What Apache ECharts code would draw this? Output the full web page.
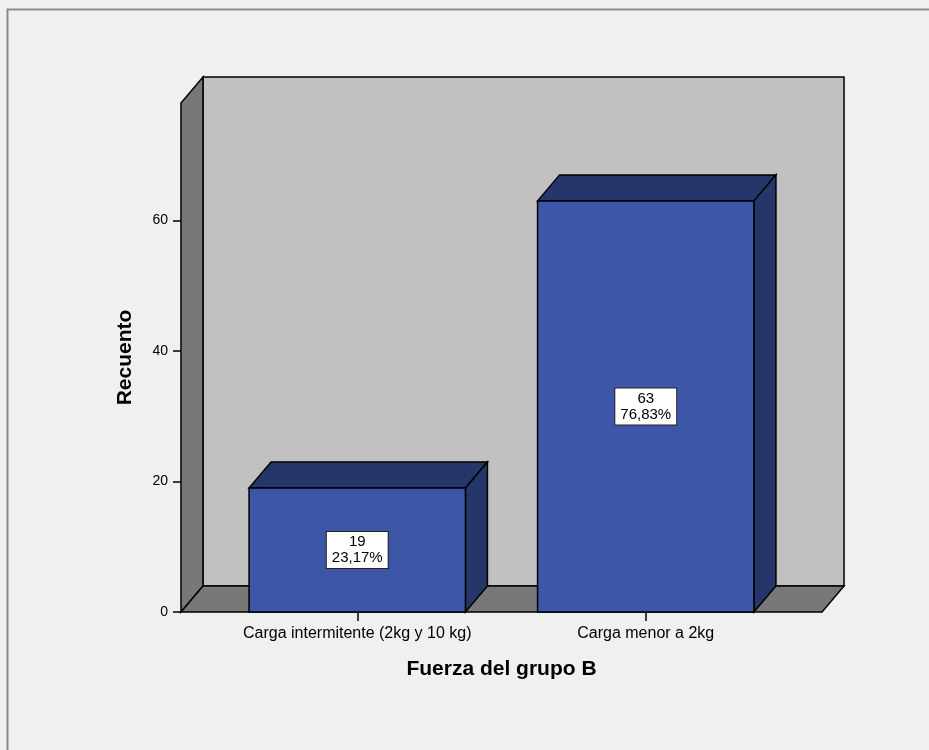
<!DOCTYPE html>
<html>
<head>
<meta charset="utf-8">
<script src="https://cdn.jsdelivr.net/npm/echarts@6/dist/echarts.min.js"></script>
<style>
  html, body { margin: 0; padding: 0; background: #f0f0f0; }
  #chart { width: 929px; height: 750px; }
</style>
</head>
<body>
<div id="chart"></div>
<script>
// Data
const categories = ['Carga intermitente (2kg y 10 kg)', 'Carga menor a 2kg'];
const counts = [19, 63];
const yTicks = [0, 20, 40, 60];
const yMax = 78;
const xTitle = 'Fuerza del grupo B';
const yTitle = 'Recuento';

const total = counts.reduce((a, b) => a + b, 0);
const pctText = v => (v / total * 100).toFixed(2).replace('.', ',') + '%';

// 3D look: depth offset of the box and its colours
const DX = 22, DY = -26;
const FRONT = '#3d56a8';
const SHADE = '#26366a';
const WALL_BACK = '#c1c1c1';
const WALL_DARK = '#787878';
const EDGE = '#000';

function renderWalls(params, api) {
  const cs = params.coordSys;
  const band = api.size([1, 0])[0];
  const pad = band * 0.111;
  const x0 = cs.x - pad, x1 = cs.x + cs.width + pad;
  const yb = api.coord([0, 0])[1];
  const yt = cs.y;
  const st = fill => ({ fill: fill, stroke: EDGE, lineWidth: 1.5 });
  return {
    type: 'group',
    children: [
      { type: 'polygon', shape: { points: [[x0 + DX, yt + DY], [x1 + DX, yt + DY], [x1 + DX, yb + DY], [x0 + DX, yb + DY]] }, style: st(WALL_BACK) },
      { type: 'polygon', shape: { points: [[x0, yb], [x0, yt], [x0 + DX, yt + DY], [x0 + DX, yb + DY]] }, style: st(WALL_DARK) },
      { type: 'polygon', shape: { points: [[x0, yb], [x0 + DX, yb + DY], [x1 + DX, yb + DY], [x1, yb]] }, style: st(WALL_DARK) }
    ]
  };
}

function renderBar(params, api) {
  const idx = api.value(0);
  const v = api.value(1);
  const top = api.coord([idx, v]);
  const base = api.coord([idx, 0]);
  const w = api.size([1, 0])[0] * 0.75;
  const xl = top[0] - w / 2, xr = top[0] + w / 2;
  const yt = top[1], yb = base[1];
  const st = fill => ({ fill: fill, stroke: EDGE, lineWidth: 1.5 });
  return {
    type: 'group',
    children: [
      { type: 'polygon', shape: { points: [[xl, yt], [xl + DX, yt + DY], [xr + DX, yt + DY], [xr, yt]] }, style: st(SHADE) },
      { type: 'polygon', shape: { points: [[xr, yt], [xr + DX, yt + DY], [xr + DX, yb + DY], [xr, yb]] }, style: st(SHADE) },
      { type: 'rect', shape: { x: xl, y: yt, width: w, height: yb - yt }, style: st(FRONT) },
      {
        type: 'text',
        x: top[0],
        y: (yt + yb) / 2,
        style: {
          text: v + '\n' + pctText(v),
          fill: '#000',
          font: '15px "Liberation Sans", Arial, sans-serif',
          lineHeight: 16,
          align: 'center',
          verticalAlign: 'middle',
          backgroundColor: '#fff',
          borderColor: '#222',
          borderWidth: 1,
          padding: [2, 5, 2, 5]
        }
      }
    ]
  };
}

const chart = echarts.init(document.getElementById('chart'));
chart.setOption({
  backgroundColor: '#f0f0f0',
  animation: false,
  textStyle: { fontFamily: '"Liberation Sans", Arial, sans-serif' },
  graphic: [{
    type: 'rect',
    left: 5, top: 7,
    shape: { width: 960, height: 780 },
    style: { fill: 'none', stroke: '#8a8a8a', lineWidth: 2 },
    z: -10
  }],
  grid: { left: 213, right: 139, top: 103, bottom: 138 },
  xAxis: {
    type: 'category',
    data: categories,
    axisLine: { show: false },
    axisTick: { show: true, interval: 0, alignWithLabel: true, length: 9, lineStyle: { color: '#000', width: 1.5 } },
    axisLabel: { color: '#000', fontSize: 16, margin: 14, interval: 0, hideOverlap: false },
    name: xTitle,
    nameLocation: 'middle',
    nameGap: 47,
    nameTextStyle: { color: '#000', fontSize: 21, fontWeight: 'bold' }
  },
  yAxis: {
    type: 'value',
    min: 0,
    max: yMax,
    offset: 32,
    axisLine: { show: false },
    splitLine: { show: false },
    axisTick: { show: true, length: 8, customValues: yTicks, lineStyle: { color: '#000', width: 1.5 } },
    axisLabel: { color: '#000', fontSize: 14, margin: 13, customValues: yTicks },
    name: yTitle,
    nameLocation: 'middle',
    nameGap: 45,
    nameTextStyle: { color: '#000', fontSize: 21, fontWeight: 'bold' }
  },
  series: [
    {
      type: 'custom',
      silent: true,
      z: 1,
      renderItem: renderWalls,
      data: [[0, 0]]
    },
    {
      type: 'custom',
      z: 2,
      renderItem: renderBar,
      data: counts.map((c, i) => [i, c])
    }
  ]
});
</script>
</body>
</html>
